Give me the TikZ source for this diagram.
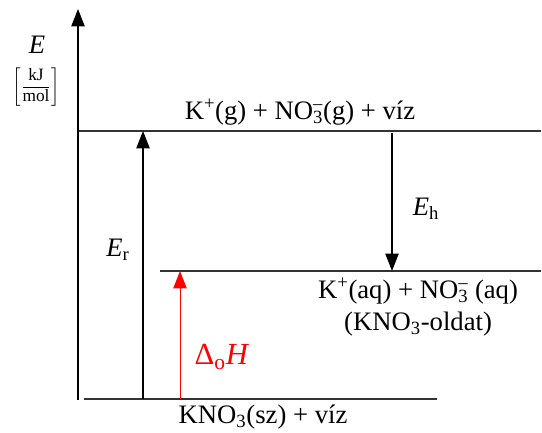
\documentclass[tikz,border=0pt]{standalone}
\usepackage{fontspec}
\setmainfont{Liberation Serif}
\usepackage{amsmath}
\usetikzlibrary{arrows.meta, positioning}
\newcommand{\nitrate}{NO\rlap{\textsuperscript{--}}\textsubscript{3}}

\begin{document}
\begin{tikzpicture}[
  x=0.75pt, y=-0.75pt,
  level/.style={line width=0.9pt, draw=black!80},
  arrow/.style={-{Triangle[length=13pt, width=10pt]}, line width=0.9pt},
  txt/.style={font=\fontsize{20}{24}\selectfont, align=center, inner sep=1pt}
]
\useasboundingbox (0,0) rectangle (542,432);

% levels
\coordinate (axisbot) at (78,400);
\coordinate (axistop) at (78,9);
\coordinate (gasL)  at (78,131);  \coordinate (gasR)  at (541,131);
\coordinate (aqL)   at (160,271); \coordinate (aqR)   at (541,271);
\coordinate (solL)  at (84,399);  \coordinate (solR)  at (437,399);

\draw[level] (gasL) -- (gasR);
\draw[level] (aqL) -- (aqR);
\draw[level] (solL) -- (solR);
\draw[arrow] (axisbot) -- (axistop);

% arrows between levels
\coordinate (erbot) at (143,399); \coordinate (ertop) at (143,131);
\coordinate (ehtop) at (392,133); \coordinate (ehbot) at (392,271);
\coordinate (dhbot) at (180,399); \coordinate (dhtop) at (180,271);
\draw[arrow] (erbot) -- (ertop);
\draw[arrow] (ehtop) -- (ehbot);
\draw[arrow, red, line width=0.7pt] (dhbot) -- (dhtop);

% labels
\node[txt] (elbl) at (37,45) {\textit{E}};
\node[txt, font=\fontsize{13}{15}\selectfont] (unit) at (36,87)
  {$\left[\dfrac{\text{kJ}}{\text{mol}}\right]$};
\node[txt] (gas) at (300,112) {K\textsuperscript{+}(g) + \nitrate(g) + víz};
\node[txt] (er) at (118,250) {\textit{E}\textsubscript{r}};
\node[txt] (eh) at (426,209) {\textit{E}\textsubscript{h}};
\node[txt] (aq) at (418,307) {K\textsuperscript{+}(aq) + \nitrate\ (aq)\\(KNO\textsubscript{3}-oldat)};
\node[txt, red, font=\fontsize{23}{26}\selectfont] (dh) at (222,357) {Δ\textsubscript{o}\textit{H}};
\node[txt] (sol) at (263,417) {KNO\textsubscript{3}(sz) + víz};
\end{tikzpicture}
\end{document}
